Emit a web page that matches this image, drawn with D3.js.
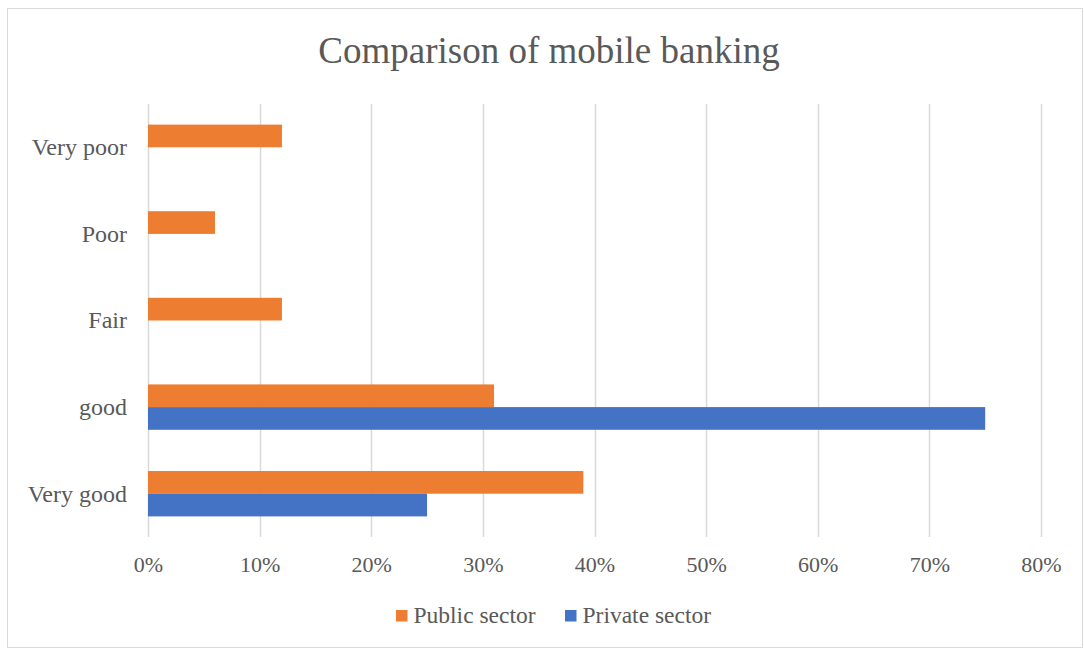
<!DOCTYPE html>
<html>
<head>
<meta charset="utf-8">
<script src="https://cdn.jsdelivr.net/npm/d3@7"></script>
<style>
  html, body { margin: 0; padding: 0; background: #fff; }
  svg { display: block; }
</style>
</head>
<body>
<svg id="chart" width="1084" height="648"></svg>
<script>
// Ratings, listed top to bottom
const categories = ["Very poor", "Poor", "Fair", "good", "Very good"];
const seriesNames = ["Public sector", "Private sector"];
const publicSector = [0.12, 0.06, 0.12, 0.31, 0.39];
const privateSector = [0, 0, 0, 0.75, 0.25];
const tickValues = [0, 0.1, 0.2, 0.3, 0.4, 0.5, 0.6, 0.7, 0.8];
const colors = ["#ED7D31", "#4472C4"];

const FONT = "'Liberation Serif', 'Times New Roman', Times, serif";
const TEXT_COLOR = "#595959";

const svg = d3.select("#chart");
const W = 1084, H = 648;

// chart frame
svg.append("rect")
  .attr("x", 7.5).attr("y", 8.5)
  .attr("width", W - 9).attr("height", H - 9)
  .attr("fill", "#fff").attr("stroke", "#d9d9d9").attr("stroke-width", 1);

const margin = { left: 148, right: 1041, top: 104, bottom: 537 };

const x = d3.scaleLinear().domain([0, 0.8]).range([margin.left, margin.right]);
const y = d3.scaleBand().domain(categories)
  .range([margin.top, margin.bottom])
  .paddingInner(0.476).paddingOuter(0.238);
const ySub = d3.scaleBand().domain(seriesNames).range([0, y.bandwidth()]);

// title
svg.append("text")
  .attr("x", 549).attr("y", 63)
  .attr("text-anchor", "middle")
  .attr("font-family", FONT).attr("font-size", 37).attr("fill", TEXT_COLOR)
  .text("Comparison of mobile banking");

// vertical gridlines
svg.append("g").selectAll("line")
  .data(tickValues).join("line")
  .attr("x1", d => Math.round(x(d)) + 0.5).attr("x2", d => Math.round(x(d)) + 0.5)
  .attr("y1", margin.top).attr("y2", margin.bottom)
  .attr("stroke", "#d9d9d9").attr("stroke-width", 1.5);

// x axis labels
const xAxis = d3.axisBottom(x).tickValues(tickValues)
  .tickFormat(d3.format(".0%")).tickSize(0).tickPadding(0);
const gx = svg.append("g").attr("transform", `translate(0,${margin.bottom + 35})`).call(xAxis)
  .attr("font-family", FONT).attr("font-size", 22);
gx.select(".domain").remove();
gx.selectAll("text").attr("dy", 0).attr("fill", TEXT_COLOR);

// y axis labels
const yAxis = d3.axisLeft(y).tickSize(0).tickPadding(0);
const gy = svg.append("g").attr("transform", `translate(${margin.left - 21},0)`).call(yAxis)
  .attr("font-family", FONT).attr("font-size", 24);
gy.select(".domain").remove();
gy.selectAll("text").attr("dy", "0.33em").attr("fill", TEXT_COLOR);

// bars
const rows = categories.map((c, i) => ({ cat: c, values: [publicSector[i], privateSector[i]] }));
const groups = svg.append("g").selectAll("g")
  .data(rows).join("g")
  .attr("transform", d => `translate(0,${y(d.cat)})`);
groups.selectAll("rect")
  .data(d => d.values.map((v, j) => ({ name: seriesNames[j], v, j })))
  .join("rect")
  .attr("x", x(0))
  .attr("y", d => ySub(d.name))
  .attr("width", d => x(d.v) - x(0))
  .attr("height", ySub.bandwidth())
  .attr("fill", d => colors[d.j]);

// legend
const legendItems = [
  { name: seriesNames[0], color: colors[0], x: 396 },
  { name: seriesNames[1], color: colors[1], x: 565 }
];
const lg = svg.append("g").selectAll("g").data(legendItems).join("g")
  .attr("transform", d => `translate(${d.x},0)`);
lg.append("rect").attr("x", 0).attr("y", 610).attr("width", 11.5).attr("height", 11.5)
  .attr("fill", d => d.color);
lg.append("text").attr("x", 17.5).attr("y", 623)
  .attr("font-family", FONT).attr("font-size", 23.5).attr("fill", TEXT_COLOR)
  .text(d => d.name);
</script>
</body>
</html>
